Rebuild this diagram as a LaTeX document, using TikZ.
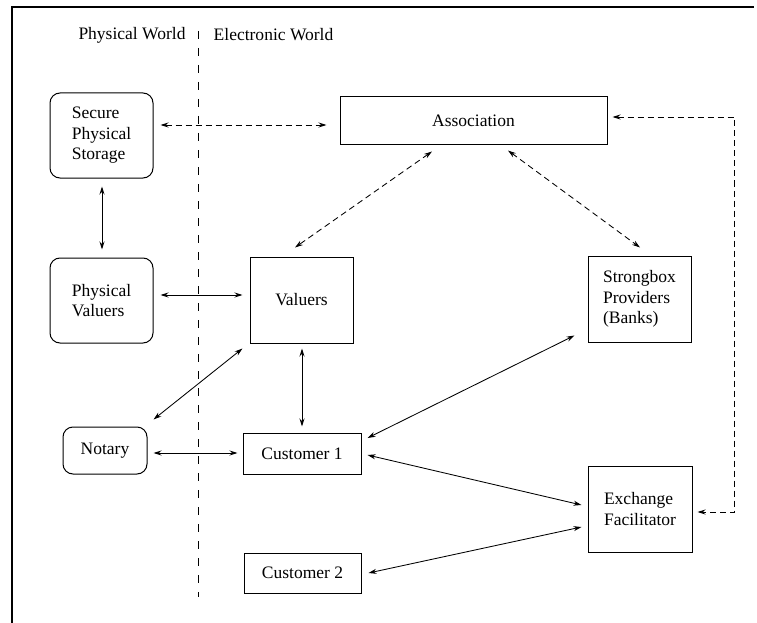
\documentclass[tikz,border=0pt]{standalone}
\usepackage{fontspec}
\setmainfont{Liberation Serif}
\usetikzlibrary{arrows.meta,calc}
\begin{document}
\begin{tikzpicture}[x=1pt,y=-1pt,
  every node/.style={font=\fontsize{17.5}{20.5}\selectfont, inner sep=0pt},
  box/.style={draw, line width=1pt},
  rbox/.style={box, rounded corners=10pt},
  conn/.style={line width=0.85pt, {Stealth[length=8pt,width=5pt]}-{Stealth[length=8pt,width=5pt]}},
  dconn/.style={conn, dash pattern=on 6pt off 4pt},
  divider/.style={line width=0.9pt, dash pattern=on 8pt off 9pt},
  frame/.style={line width=1.4pt}
]
\useasboundingbox (0,0) rectangle (757,623);

% frame (top and left edges)
\coordinate (fl) at (12,623);
\coordinate (ftl) at (12,7);
\coordinate (ftr) at (754,7);
\draw[frame] (fl) -- (ftl) -- (ftr);

% divider
\coordinate (dtop) at (198,31);
\coordinate (dbot) at (198,597);
\draw[divider] (dtop) -- (dbot);

% labels
\node (lphys) at (132,35) {Physical World};
\node (lelec) at (273.5,35) {Electronic World};

% nodes
\node[rbox, minimum width=103pt, minimum height=85pt, align=left] (sps) at (101.5,135.5) {Secure\\Physical\\Storage};
\node[rbox, minimum width=103pt, minimum height=85pt, align=left] (pv) at (101.5,300.5) {Physical\\Valuers};
\node[box, minimum width=103pt, minimum height=86pt] (val) at (301.5,300) {Valuers};
\node[box, minimum width=267pt, minimum height=47pt] (assoc) at (473.5,120.5) {Association};
\node[box, minimum width=103pt, minimum height=86pt, align=left] (sb) at (639.5,299) {Strongbox\\Providers\\(Banks)};
\node[rbox, minimum width=84pt, minimum height=47pt] (notary) at (105,450.5) {Notary};
\node[box, minimum width=118pt, minimum height=41pt] (c1) at (302,453.5) {Customer 1};
\node[box, minimum width=117pt, minimum height=40pt] (c2) at (302.5,573) {Customer 2};
\node[box, minimum width=104pt, minimum height=86pt, align=left] (ex) at (640,509) {Exchange\\Facilitator};

% connectors
\draw[dconn] ($(sps.east)+(7,-10.5)$) -- ($(assoc.west)+(-13,4.5)$);
\draw[conn] ($(sps.south)+(0.5,8)$) -- ($(pv.north)+(0.5,-8)$);
\draw[conn] ($(pv.east)+(7,-5.5)$) -- ($(val.west)+(-7,-5)$);
\draw[dconn] ($(assoc.south)+(-41.5,7)$) -- ($(val.north)+(-6.5,-9)$);
\draw[dconn] ($(assoc.south)+(34.5,6)$) -- ($(sb.north)+(0.5,-8)$);
\coordinate (ca) at (734,117);
\coordinate (cb) at (734,512);
\draw[dconn] ($(assoc.east)+(5,-3.5)$) -- (ca) -- (cb) -- ($(ex.east)+(5,3)$);
\draw[conn] ($(val.south west)+(-7,5)$) -- ($(notary.north east)+(6,-7)$);
\draw[conn] ($(val.south)+(0.5,5)$) -- ($(c1.north)+(0,-6)$);
\draw[conn] ($(notary.east)+(6,2.5)$) -- ($(c1.west)+(-5,-0.5)$);
\draw[conn] ($(sb.south west)+(-13,-7)$) -- ($(c1.east)+(6,-15.5)$);
\draw[conn] ($(c1.east)+(6,1.5)$) -- ($(ex.west)+(-6,-4)$);
\draw[conn] ($(c2.east)+(7,0)$) -- ($(ex.west)+(-6,18)$);
\end{tikzpicture}
\end{document}
